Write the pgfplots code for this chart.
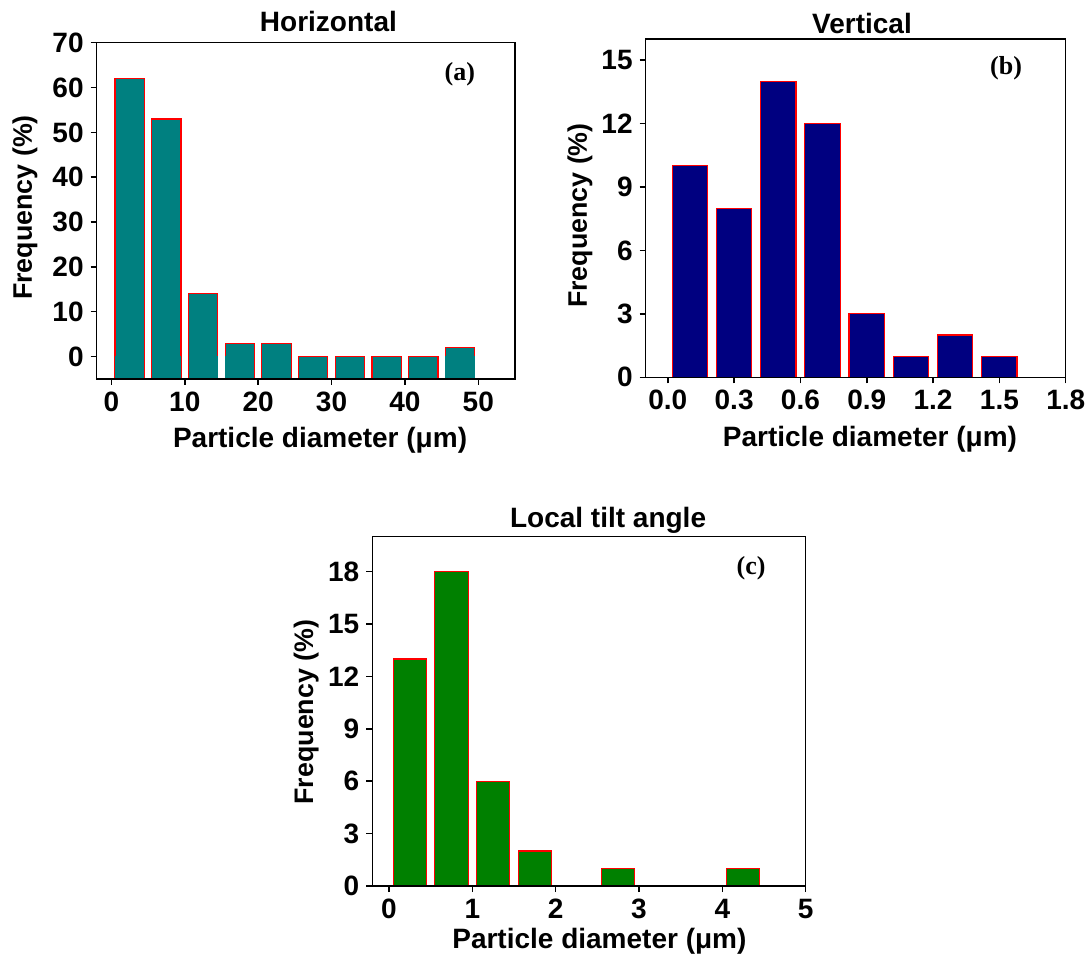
\documentclass[border=0pt]{standalone}
\usepackage{fontspec}
\setmainfont{Liberation Sans}
\newfontfamily\tagfont{Liberation Serif}
\usepackage{pgfplots}
\pgfplotsset{compat=1.18}
\definecolor{tealc}{RGB}{0,128,128}
\definecolor{navyc}{RGB}{0,0,128}
\definecolor{greenc}{RGB}{0,128,0}
\pgfplotsset{panel/.style={
  scale only axis, anchor=south west, axis on top,
  axis line style={black, line width=0.75pt},
  tick style={black, line width=0.75pt},
  tick align=outside, major tick length=3pt,
  xtick pos=lower, ytick pos=left,
  minor tick num=0,
  every axis title shift=0pt,
  /pgf/number format/assume math mode=true,
  ticklabel style={font=\fontsize{14}{16}\selectfont\bfseries},
  label style={font=\fontsize{14}{16}\selectfont\bfseries},
  ylabel style={font=\fontsize{13.4}{16}\selectfont\bfseries},
  title style={font=\fontsize{14}{16}\selectfont\bfseries, anchor=base},
  xlabel={Particle diameter (μm)},
  ylabel={Frequency (\%)},
}}
\begin{document}
\begin{tikzpicture}
\path[use as bounding box] (0,0) rectangle (545.5pt,479pt);
% (a)
\begin{axis}[panel, at={(48.35pt,289.5pt)}, width=209.15pt, height=168.15pt,
  xmin=-2, xmax=55, ymin=-5, ymax=70,
  xtick={0,10,20,30,40,50}, ytick={0,10,20,30,40,50,60,70},
  title={Horizontal},
  title style={at={(axis description cs:0.554,1)}, yshift=5.8pt},
  xlabel style={at={(axis description cs:0.534,0)}, anchor=base, yshift=-34.5pt},
  ylabel style={at={(axis description cs:-0.1547,0.51)}, anchor=base},
]
% lower part of every bar (down to the axis floor)
\addplot[ybar, bar shift=0pt, bar width=4, fill=tealc, draw=red, line width=0.6pt]
  coordinates {(2.5,-5) (7.5,-5) (12.5,-5) (17.5,-5) (22.5,-5) (27.5,-5) (32.5,-5) (37.5,-5) (42.5,-5) (47.5,-5)};
% bars
\addplot[ybar, bar shift=0pt, bar width=4, fill=tealc, draw=red, line width=0.6pt]
  coordinates {(2.5,62) (7.5,53) (12.5,14) (17.5,3) (22.5,3) (27.5,0) (32.5,0) (37.5,0) (42.5,0) (47.5,2)};
% hide the joint at zero inside the non-empty bars
\addplot[ybar, bar shift=0pt, bar width=3.8, fill=tealc, draw=tealc, line width=0.6pt]
  coordinates {(2.5,-5) (7.5,-5) (12.5,-5) (17.5,-5) (22.5,-5) (47.5,-5)};
\node[font=\tagfont\bfseries\fontsize{13}{15}\selectfont] at (axis description cs:0.868,0.907) {(a)};
\end{axis}
% (b)
\begin{axis}[panel, at={(322.85pt,290.35pt)}, width=210pt, height=169.15pt,
  xmin=-0.1, xmax=1.8, ymin=0, ymax=16,
  xtick={0,0.3,0.6,0.9,1.2,1.5,1.8}, xticklabels={0.0,0.3,0.6,0.9,1.2,1.5,1.8},
  ytick={0,3,6,9,12,15},
  title={Vertical},
  title style={at={(axis description cs:0.515,1)}, yshift=2.5pt},
  xlabel style={at={(axis description cs:0.534,0)}, anchor=base, yshift=-34.5pt},
  ylabel style={at={(axis description cs:-0.1398,0.478)}, anchor=base},
]
\addplot[ybar, bar shift=0pt, bar width=0.16, fill=navyc, draw=red, line width=0.6pt]
  coordinates {(0.1,10) (0.3,8) (0.5,14) (0.7,12) (0.9,3) (1.1,1) (1.3,2) (1.5,1)};
\node[font=\tagfont\bfseries\fontsize{13}{15}\selectfont] at (axis description cs:0.858,0.914) {(b)};
\end{axis}
% (c)
\begin{axis}[panel, at={(186.15pt,36pt)}, width=216.7pt, height=174.65pt,
  xmin=-0.2, xmax=5, ymin=0, ymax=20,
  xtick={0,1,2,3,4,5}, ytick={0,3,6,9,12,15,18},
  title={Local tilt angle},
  title style={at={(axis description cs:0.544,1)}, yshift=4.5pt},
  xlabel style={at={(axis description cs:0.524,0)}, anchor=base, yshift=-31pt},
  ylabel style={at={(axis description cs:-0.1368,0.498)}, anchor=base},
]
\addplot[ybar, bar shift=0pt, bar width=0.4, fill=greenc, draw=red, line width=0.6pt]
  coordinates {(0.25,13) (0.75,18) (1.25,6) (1.75,2) (2.75,1) (4.25,1)};
\node[font=\tagfont\bfseries\fontsize{13}{15}\selectfont] at (axis description cs:0.874,0.91) {(c)};
\end{axis}
\end{tikzpicture}
\end{document}
